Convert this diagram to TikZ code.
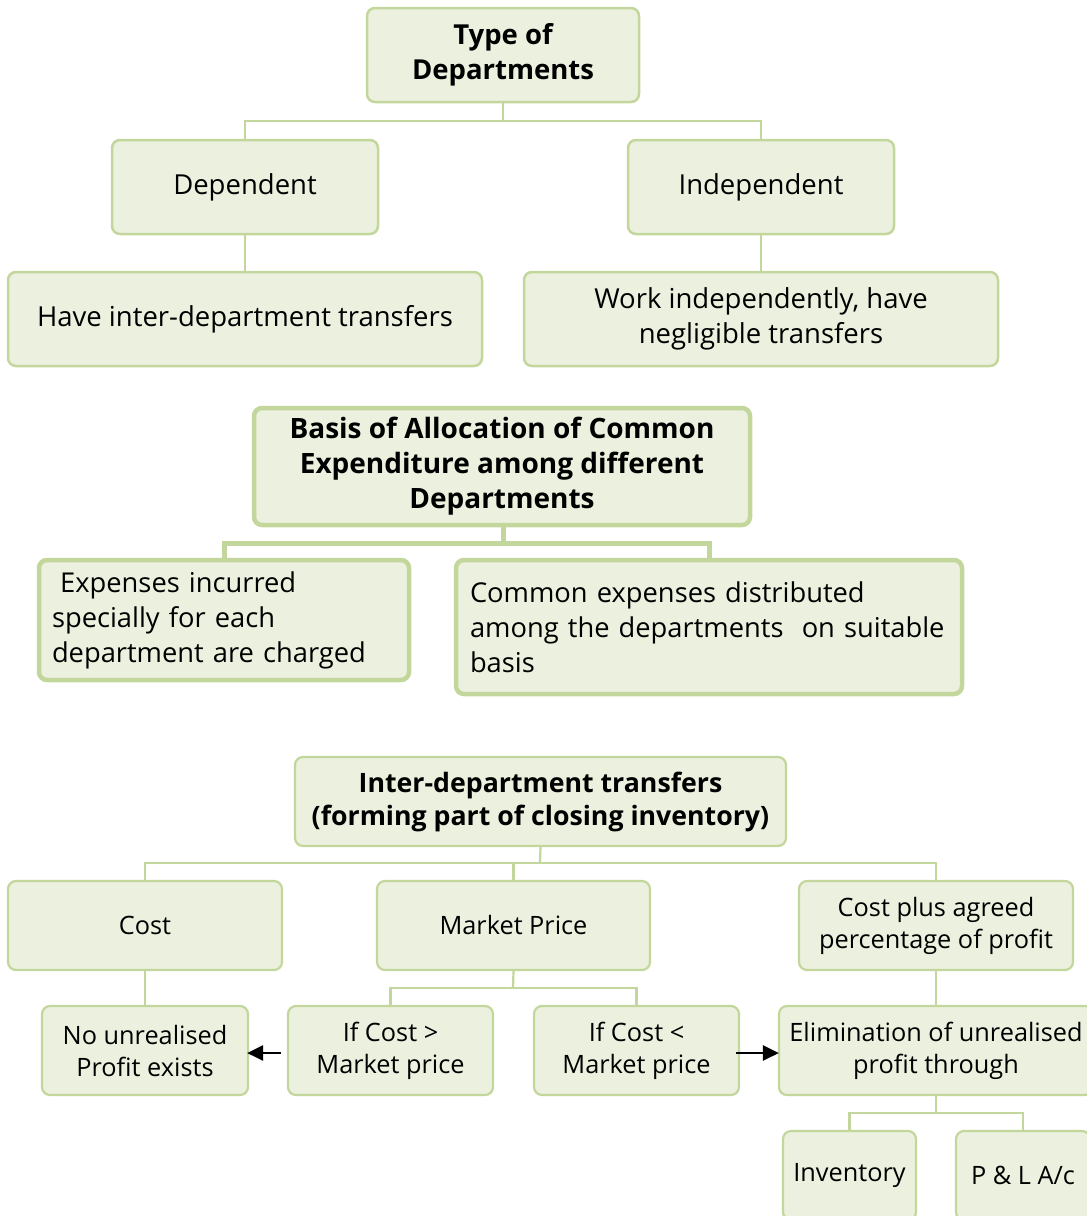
\documentclass[tikz,border=0pt]{standalone}
\usepackage{fontspec}
\setmainfont{Open Sans}
\usetikzlibrary{arrows.meta,calc}
\definecolor{boxfill}{HTML}{EBF1DE}
\definecolor{boxline}{HTML}{C3D69B}
\begin{document}
\begin{tikzpicture}[x=1pt,y=-1pt,
  box/.style={draw=boxline,fill=boxfill,rounded corners=8pt,line width=2.5pt,inner sep=0pt,align=center,font=\fontsize{27.5}{35}\selectfont},
  tbox/.style={box,line width=4.5pt},
  sbox/.style={box,line width=2.2pt,font=\fontsize{25.3}{32}\selectfont},
  conn/.style={draw=boxline,line width=2.5pt},
  tconn/.style={draw=boxline,line width=5pt},
  sconn/.style={draw=boxline,line width=2.2pt},
  arr/.style={draw=black,line width=2.6pt,-{Triangle[length=16pt,width=15pt]}}]
\useasboundingbox (0,0) rectangle (1087,1216);
\clip (0,0) rectangle (1087,1216);
% ---------- section 1
\node[box,minimum width=272pt,minimum height=94pt] (type) at (503,55) {\bfseries Type of\\\bfseries Departments};
\node[box,minimum width=266pt,minimum height=94pt] (dep) at (245,187) {Dependent};
\node[box,minimum width=266pt,minimum height=94pt] (ind) at (761,187) {Independent};
\node[box,minimum width=474pt,minimum height=94pt] (have) at (245,319) {Have inter-department transfers};
\node[box,minimum width=474pt,minimum height=94pt] (work) at (761,319) {Work independently, have\\negligible transfers};
\coordinate (j1) at (503,121);
\draw[conn] (type.south) -- (j1);
\draw[conn] (dep.north) |- (j1) -| (ind.north);
\draw[conn] (dep.south) -- (have.north);
\draw[conn] (ind.south) -- (work.north);
% ---------- section 2
\coordinate (j2) at (503,543);
\draw[tconn] (503,525) -- (j2);
\draw[tconn] (224,560) |- (j2) -| (709,560);
\node[tbox,minimum width=496pt,minimum height=117pt,font=\fontsize{28}{35}\selectfont\bfseries] (basis) at (502,466.5) {Basis of Allocation of Common\\Expenditure among different\\Departments};
\node[tbox,minimum width=370pt,minimum height=120pt,text width=344pt,align=left,font=\fontsize{27.3}{35}\selectfont] (exp) at (224,620) {\hspace*{0.3em}Expenses incurred\\specially for each\\department are charged};
\node[tbox,minimum width=506pt,minimum height=134pt,text width=478pt,align=left,font=\fontsize{27.3}{35}\selectfont] (com) at (709,627) {Common expenses distributed\\among the departments\ \ on suitable\\basis};
% ---------- section 3
\node[sbox,minimum width=491pt,minimum height=89pt,font=\fontsize{26.7}{33}\selectfont\bfseries] (inter) at (540.5,801.5) {Inter-department transfers\\(forming part of closing inventory)};
\node[sbox,minimum width=274pt,minimum height=89pt] (cost) at (145,925.5) {Cost};
\node[sbox,minimum width=273pt,minimum height=89pt] (mkt) at (513.5,925.5) {Market Price};
\node[sbox,minimum width=274pt,minimum height=89pt] (cplus) at (936,925.5) {Cost plus agreed\\percentage of profit};
\node[sbox,minimum width=206pt,minimum height=89pt] (nounr) at (145,1050.5) {No unrealised\\Profit exists};
\node[sbox,minimum width=205pt,minimum height=89pt] (gt) at (390.5,1050.5) {If Cost >\\Market price};
\node[sbox,minimum width=205pt,minimum height=89pt] (lt) at (636.5,1050.5) {If Cost <\\Market price};
\node[sbox,minimum width=314pt,minimum height=89pt] (elim) at (936,1050.5) {Elimination of unrealised\\profit through};
\node[sbox,minimum width=133pt,minimum height=89pt] (inv) at (849.5,1175.5) {Inventory};
\node[sbox,minimum width=134pt,minimum height=89pt] (pl) at (1023,1175.5) {P \& L A/c};
\coordinate (j3) at (540,863);
\coordinate (j4) at (513,988);
\coordinate (j5) at (936,1113);
\draw[sconn] (inter.south) -- (j3);
\draw[sconn] (cost.north) |- (j3) -| (cplus.north);
\draw[sconn] (mkt.north) -- (mkt.north |- j3);
\draw[sconn] (cost.south) -- (nounr.north);
\draw[sconn] (mkt.south) -- (j4);
\draw[sconn] (gt.north) |- (j4) -| (lt.north);
\draw[sconn] (cplus.south) -- (elim.north);
\draw[sconn] (elim.south) -- (j5);
\draw[sconn] (inv.north) |- (j5) -| (pl.north);
\draw[arr] ($(gt.west)+(-6,2.5)$) -- ($(nounr.east)+(-2,2.5)$);
\draw[arr] ($(lt.east)+(-4,2.5)$) -- ($(elim.west)+(1,2.5)$);
\end{tikzpicture}
\end{document}
